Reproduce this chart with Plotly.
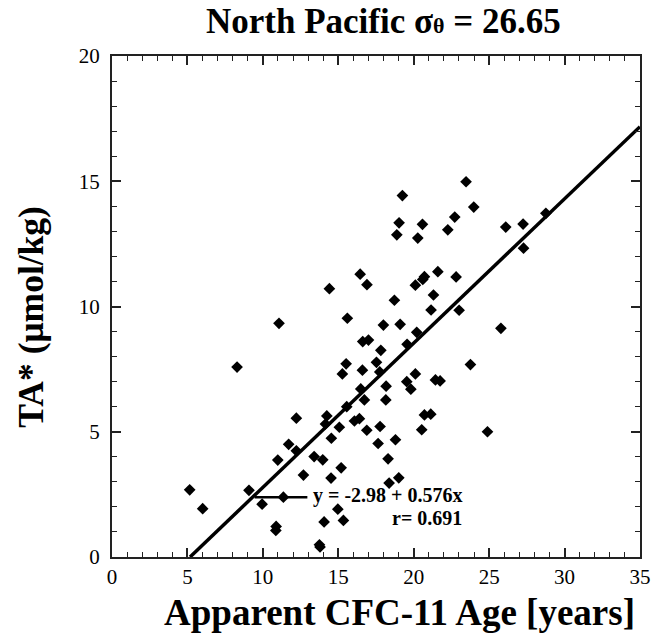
import plotly.graph_objects as go

# Data: apparent CFC-11 age (years) vs TA* (umol/kg)
age = [5.15, 6.01, 8.29, 9.08, 9.95, 10.88, 10.86, 10.99, 11.07, 11.36,
       11.71, 12.22, 12.22, 12.69, 13.40, 13.75, 13.79, 13.97, 14.06, 14.15,
       14.24, 14.41, 14.52, 14.54, 14.97, 15.07, 15.19, 15.27, 15.34, 15.52,
       15.56, 15.60, 16.07, 16.40, 16.49, 16.45, 16.60, 16.62, 16.73, 16.89,
       16.90, 17.00, 17.53, 17.64, 17.75, 17.77, 17.82, 17.99, 18.15, 18.17,
       18.30, 18.37, 18.72, 18.79, 18.88, 19.01, 19.03, 19.10, 19.25, 19.54,
       19.56, 19.81, 20.11, 20.11, 20.20, 20.27, 20.53, 20.58, 20.60, 20.71,
       20.71, 21.13, 21.15, 21.31, 21.44, 21.60, 21.75, 22.26, 22.72, 22.81,
       23.01, 23.47, 23.76, 23.98, 24.89, 25.78, 26.10, 27.25, 27.28, 28.76]
ta_star = [2.68, 1.93, 7.58, 2.66, 2.11, 1.22, 1.06, 3.87, 9.33, 2.39,
           4.50, 4.24, 5.54, 3.27, 4.01, 0.49, 0.40, 3.88, 1.40, 5.31,
           5.63, 10.71, 3.15, 4.74, 1.91, 5.18, 3.56, 7.31, 1.46, 7.71,
           6.00, 9.53, 5.43, 5.52, 6.71, 11.29, 7.46, 8.60, 6.27, 5.06,
           10.87, 8.66, 7.77, 4.53, 7.39, 5.21, 8.25, 9.26, 6.27, 6.82,
           3.92, 2.95, 10.25, 4.68, 12.86, 3.16, 13.34, 9.29, 14.43, 7.00,
           8.49, 6.70, 7.31, 10.85, 8.97, 12.73, 5.08, 13.28, 11.08, 11.19,
           5.67, 5.70, 9.86, 10.46, 7.07, 11.39, 7.03, 13.06, 13.57, 11.18,
           9.85, 14.98, 7.68, 13.97, 5.00, 9.13, 13.17, 13.29, 12.33, 13.72]

intercept = -2.98
slope = 0.576
r_value = 0.691

x_ticks = [0, 5, 10, 15, 20, 25, 30, 35]
y_ticks = [0, 5, 10, 15, 20]

FONT = "Liberation Serif"

x0_fit = -intercept / slope
x_fit = [x0_fit, 35]
y_fit = [intercept + slope * v for v in x_fit]

fig = go.Figure()
fig.add_trace(go.Scatter(x=x_fit, y=y_fit, mode="lines",
                         line=dict(color="black", width=3.5),
                         showlegend=False, hoverinfo="skip"))
fig.add_trace(go.Scatter(x=age, y=ta_star, mode="markers",
                         marker=dict(symbol="diamond", size=9, color="black"),
                         showlegend=False, cliponaxis=False))

# fit legend: short line + text
fig.add_shape(type="line", xref="x", yref="y", x0=9.45, x1=12.95, y0=2.39, y1=2.39,
              line=dict(color="black", width=2.5))
fig.add_annotation(xref="x", yref="y", x=13.2, y=2.45, xanchor="left", yanchor="middle",
                   text=f"y = {intercept:.2f} + {slope:.3f}x", showarrow=False,
                   font=dict(family=FONT, size=20, color="black", weight="bold"))
fig.add_annotation(xref="x", yref="y", x=23.3, y=1.55, xanchor="right", yanchor="middle",
                   text=f"r= {r_value:.3f}", showarrow=False,
                   font=dict(family=FONT, size=20, color="black", weight="bold"))

# title
fig.add_annotation(xref="paper", yref="paper", x=0.515, y=1.068, xanchor="center", yanchor="middle",
                   text="North Pacific σ<span style='font-size:22px'>θ</span> = 26.65", showarrow=False,
                   font=dict(family=FONT, size=35, color="black", weight="bold"))
# axis titles
fig.add_annotation(xref="paper", yref="paper", x=0.545, y=-0.11, xanchor="center", yanchor="middle",
                   text="Apparent CFC-11 Age [years]", showarrow=False,
                   font=dict(family=FONT, size=37, color="black", weight="bold"))
fig.add_annotation(xref="paper", yref="paper", x=-0.155, y=0.48, xanchor="center", yanchor="middle",
                   text="TA* (μmol/kg)", textangle=-90, showarrow=False,
                   font=dict(family=FONT, size=35.5, color="black", weight="bold"))

axis_common = dict(showgrid=False, zeroline=False, showline=True, linecolor="#222",
                   linewidth=2, mirror="ticks", ticks="inside", ticklen=9, tickwidth=1.5,
                   tickcolor="#222", automargin=False,
                   tickfont=dict(family=FONT, size=21, color="black"))

fig.update_xaxes(range=[0, 35], tickvals=x_ticks, ticktext=[str(v) for v in x_ticks],
                 minor=dict(dtick=1, ticks="inside", ticklen=5, tickwidth=1, tickcolor="#222"),
                 **axis_common)
fig.update_yaxes(range=[0, 20], tickvals=y_ticks, ticktext=[str(v) for v in y_ticks],
                 minor=dict(dtick=1, ticks="inside", ticklen=5, tickwidth=1, tickcolor="#222"),
                 ticklabelstandoff=6, **axis_common)

fig.update_layout(width=653, height=637, margin=dict(l=112, r=13, t=56, b=80),
                  plot_bgcolor="white", paper_bgcolor="white",
                  font=dict(family=FONT, color="black"))

fig.write_html("out.html")
